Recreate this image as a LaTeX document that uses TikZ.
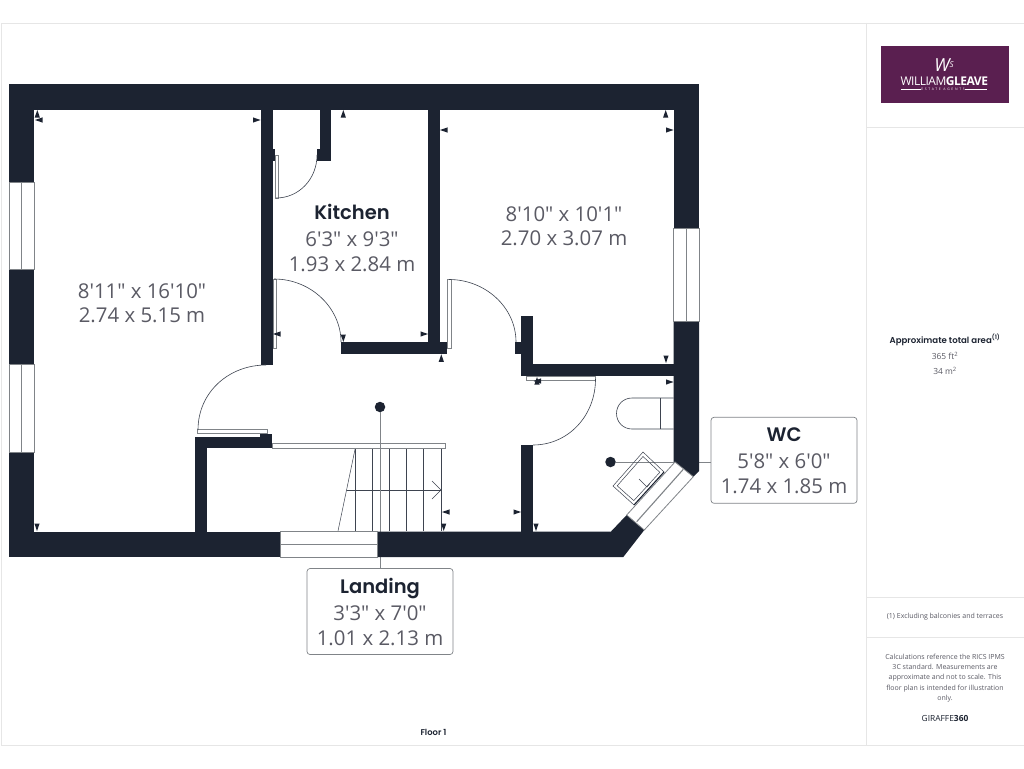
\documentclass[tikz,border=0pt]{standalone}
\usepackage{fontspec}
\setmainfont{Open Sans}[Ligatures=TeXOff]
\newfontfamily\headfont{Poppins}[BoldFont={Poppins SemiBold}]
\usetikzlibrary{calc}
\definecolor{wallcol}{HTML}{1C2331}
\definecolor{textcol}{HTML}{5A5A64}
\definecolor{edgecol}{HTML}{808488}
\definecolor{framecol}{HTML}{E6E6E6}
\definecolor{logocol}{HTML}{5A1F50}
\tikzstyle{wall} = [fill=wallcol, draw=none]
\tikzstyle{glass} = [fill=white, draw=edgecol, line width=0.8pt]
\tikzstyle{glass-mid} = [draw=edgecol, line width=1.1pt]
\tikzstyle{door-leaf} = [fill=white, draw=edgecol, line width=0.6pt]
\tikzstyle{swing} = [draw=wallcol!85, line width=0.6pt]
\tikzstyle{tread} = [draw=wallcol!85, line width=0.5pt]
\tikzstyle{frame-line} = [draw=framecol, line width=0.8pt]
\tikzstyle{leader} = [draw=edgecol, line width=0.8pt]
\tikzstyle{dot} = [circle, fill=wallcol, inner sep=0pt, minimum size=10.5pt]
\tikzstyle{room-label} = [align=center, text=textcol, inner sep=0pt, font=\fontsize{20.4}{24.5}\selectfont]
\tikzstyle{label-box} = [room-label, rectangle, rounded corners=3pt, fill=white, draw=edgecol, line width=0.7pt, minimum width=146pt, minimum height=86pt]
\tikzstyle{panel-text} = [align=center, text=textcol, inner sep=0pt, font=\fontsize{7}{10.4}\selectfont]
\tikzstyle{area-text} = [panel-text, font=\fontsize{8.4}{10.4}\selectfont]
\newcommand{\roomhead}[1]{{\color{wallcol}\headfont\bfseries\fontsize{19.5}{24}\selectfont #1}}

\begin{document}
\begin{tikzpicture}[x=1pt, y=-1pt]
\useasboundingbox (0,0) rectangle (1024,768);
\fill [white] (0,0) rectangle (1024,768);

% page frame and side panel
\draw [frame-line] (1024,23) -- (1,23) -- (1,745) -- (1024,745);
\draw [frame-line] (866.5,23) -- (866.5,745);
\draw [frame-line] (866.5,127) -- (1024,127);
\draw [frame-line] (866.5,597) -- (1024,597);
\draw [frame-line] (866.5,637) -- (1024,637);

% logo
\node (logo) [fill=logocol, minimum width=128pt, minimum height=57pt, inner sep=0pt] at (945,74.5) {};
\node (logo-mark) [text=white, inner sep=0pt, font=\fontsize{18}{18}\selectfont\itshape] at (944,65) {W\raisebox{4pt}{\fontsize{8}{8}\selectfont S}};
\node (logo-name) [text=white, inner sep=0pt, font=\fontsize{12}{13}\selectfont] at (944,81.5) {\addfontfeature{LetterSpace=-4}WILLIAM\textbf{GLEAVE}};
\node (logo-sub) [text=white, inner sep=0pt, font=\fontsize{3.4}{4}\selectfont] at (943,89) {\addfontfeature{LetterSpace=50}ESTATE AGENTS};
\draw [white, line width=0.3pt] (901,89) -- (logo-sub.west);
\draw [white, line width=0.3pt] (logo-sub.east) -- (987,89);

% panel text
\node (area-title) [panel-text, text=wallcol, font=\headfont\bfseries\fontsize{8.6}{10}\selectfont] at (945,339.5) {Approximate total area\textsuperscript{(1)}};
\node (area-ft) [area-text] at (945,356) {365 ft\textsuperscript{2}};
\node (area-m) [area-text] at (945,371) {34 m\textsuperscript{2}};
\node (area-note) [panel-text] at (945,617) {(1) Excluding balconies and terraces};
\node (disclaimer) [panel-text] at (945,678) {Calculations reference the RICS IPMS\\3C standard. Measurements are\\approximate and not to scale. This\\floor plan is intended for illustration\\only.};
\node (giraffe) [panel-text, text=wallcol, font=\fontsize{8.4}{10}\selectfont] at (945,718.5) {GIRAFFE\textbf{360}};
\node (floor) [text=wallcol, inner sep=0pt, font=\headfont\bfseries\fontsize{8.4}{10}\selectfont] at (433.5,732) {Floor 1};

% stairs
\foreach \x in {355.3,372.3,389.3,406.7,423.7,441}
    \draw [tread] (\x,448) -- (\x,531);
\draw [tread] (355.3,448) -- (338,531);
\draw [tread] (346.7,490) -- (441,490);
\draw [tread] (432,481) -- (441,490) -- (432,499);
\draw [door-leaf, line width=0.8pt] (272,443.5) rectangle (445.5,448.5);

% label boxes and leaders
\node (landing-dot) [dot] at (380,407) {};
\node (wc-dot) [dot] at (610.5,462) {};
\node (landing-box) [label-box] at (380,611.5) {\roomhead{Landing}\\[3pt]3'3" x 7'0"\\1.01 x 2.13 m};
\node (wc-box) [label-box] at (784,460.3) {\roomhead{WC}\\[3pt]5'8" x 6'0"\\1.74 x 1.85 m};
\draw [leader] (landing-dot) -- (landing-box);
\draw [leader] (wc-dot) -- (wc-dot -| wc-box.west);

% walls
\fill [wall] (9,84) rectangle (699,109.5);
\fill [wall] (9,84) rectangle (34.4,182);
\fill [wall] (9,269.5) rectangle (34.4,364);
\fill [wall] (9,452) rectangle (34.4,557);
\fill [wall] (9,531.5) rectangle (280,557);
\fill [wall] (377,531.5) -- (611,531.5) -- (626.7,515) -- (644.3,530) -- (623.3,557) -- (377,557) -- cycle;
\fill [wall] (673.7,84) rectangle (699,228);
\fill [wall] (673.7,321) -- (699,321) -- (699,471) -- (693.3,476.7) -- (675,462) -- (673.7,462) -- cycle;
\fill [wall] (261,109) rectangle (272.5,365);
\fill [wall] (272,149) rectangle (275,161);
\fill [wall] (319.5,109) rectangle (331,161);
\fill [wall] (317,149) rectangle (320,161);
\fill [wall] (428,109) rectangle (439.5,354);
\fill [wall] (341,342.3) rectangle (447,354);
\fill [wall] (521,315.7) rectangle (533,376);
\fill [wall] (515,342) rectangle (521.5,354);
\fill [wall] (521,363.5) rectangle (674,375.8);
\fill [wall] (521,445) rectangle (533,532);
\fill [wall] (195,436.7) rectangle (272,448.3);
\fill [wall] (260,434) rectangle (272,437);
\fill [wall] (195,436.7) rectangle (206.7,532);

% windows
\draw [glass] (9,182) rectangle (34.4,269.5);
\draw [glass-mid] (21.7,182) -- (21.7,269.5);
\draw [glass] (9,364) rectangle (34.4,452);
\draw [glass-mid] (21.7,364) -- (21.7,452);
\draw [glass] (280,531.5) rectangle (377,557);
\draw [glass-mid] (280,544.3) -- (377,544.3);
\draw [glass] (673.7,228) rectangle (699,321);
\draw [glass-mid] (686.4,228) -- (686.4,321);
\draw [glass] (675,462) -- (693.3,476.7) -- (644.3,530) -- (626.7,515) -- cycle;
\draw [glass-mid] (683.3,469.3) -- (636.7,521.7);

% doors
\draw [door-leaf] (197.5,429.5) rectangle (267,433.5);
\draw [swing] (198,430) .. controls (198,392) and (229,365) .. (266,365);
\draw [door-leaf] (273.3,279) rectangle (276,348);
\draw [swing] (274,279) .. controls (311,279) and (341,308) .. (341,342);
\draw [door-leaf] (274.8,155) rectangle (278,198);
\draw [swing] (276,198) .. controls (299,198) and (317,179) .. (317,155);
\draw [door-leaf] (447,279.5) rectangle (451,348);
\draw [swing] (449,279.5) .. controls (485,279.5) and (516,307) .. (516,342);
\draw [door-leaf] (526.7,376) rectangle (595.5,380);
\draw [swing] (595.5,379) .. controls (595.5,416) and (568,445) .. (533,445);

% toilet
\draw [tread, line width=0.6pt] (673.7,398) -- (632,398) .. controls (623,398) and (616.5,405) .. (616.5,413.5) .. controls (616.5,422) and (623,429) .. (632,429) -- (673.7,429);
\draw [tread, line width=0.6pt] (660.3,398) -- (660.3,429);

% sink
\draw [tread] (643,452) -- (664,472) -- (634,505) -- (613,486) -- cycle;
\draw [tread] (643,456.5) -- (659.8,472.3) -- (633.8,500.6) -- (617.2,485.8) -- cycle;
\draw [wallcol, line width=1pt] (664,472) -- (634,505);
\draw [tread] (639,479) -- (647,487) -- (650,483.5);

% dimension ticks
\foreach \x/\y in {37.3/110, 343.3/110, 665.7/110, 441.3/354.3, 537/377}
    \fill [wall] (\x,\y) -- ++(-2.6,7.5) -- ++(5.2,0) -- cycle;
\foreach \x/\y in {37/531, 343.3/342, 443.7/531, 536/531, 666/363}
    \fill [wall] (\x,\y) -- ++(-2.6,-7.5) -- ++(5.2,0) -- cycle;
\foreach \x/\y in {35/120, 273/334, 440/130, 442/512, 533.5/381}
    \fill [wall] (\x,\y) -- ++(7.5,-2.6) -- ++(0,5.2) -- cycle;
\foreach \x/\y in {260.5/120, 428/334, 673.5/130, 521/512, 673.5/382}
    \fill [wall] (\x,\y) -- ++(-7.5,-2.6) -- ++(0,5.2) -- cycle;

% room labels
\node (bedroom-label) [room-label] at (142,303) {8'11" x 16'10"\\2.74 x 5.15 m};
\node (kitchen-label) [room-label] at (352,237.5) {\roomhead{Kitchen}\\[3pt]6'3" x 9'3"\\1.93 x 2.84 m};
\node (front-label) [room-label] at (564,226) {8'10" x 10'1"\\2.70 x 3.07 m};

\end{tikzpicture}
\end{document}
